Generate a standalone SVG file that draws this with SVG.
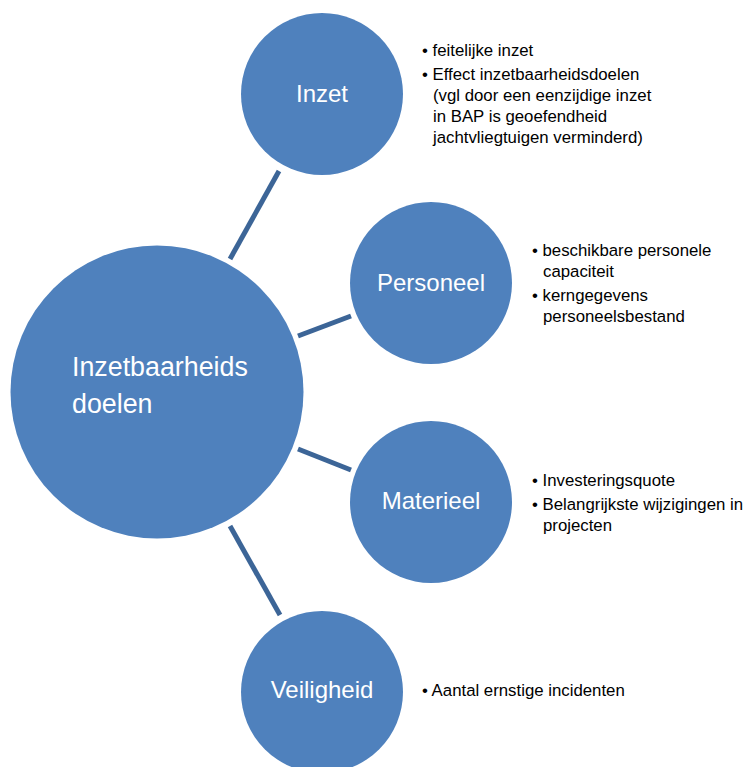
<svg xmlns="http://www.w3.org/2000/svg" width="750" height="767" viewBox="0 0 750 767">
<style>
.c{fill:#4F81BD}
.l{stroke:#3C6597;stroke-width:5;fill:none}
.t{font-family:"Liberation Sans",Arial,sans-serif;fill:#fff;font-size:24px}
.b{font-family:"Liberation Sans",Arial,sans-serif;fill:#000;font-size:16.8px}
</style>
<rect width="750" height="767" fill="#fff"/>
<g id="connectors">
<line class="l" x1="230" y1="259" x2="279" y2="171"/>
<line class="l" x1="298" y1="336" x2="351" y2="316"/>
<line class="l" x1="298" y1="449" x2="351" y2="470"/>
<line class="l" x1="230" y1="526" x2="280" y2="615"/>
</g>
<g id="center">
<circle class="c" cx="157" cy="392" r="146.5"/>
<text class="t" x="72" y="376" style="font-size:26.8px">Inzetbaarheids</text>
<text class="t" x="72" y="413" style="font-size:26.8px">doelen</text>
</g>
<g id="inzet">
<circle class="c" cx="322" cy="94" r="81"/>
<text class="t" x="322" y="102" text-anchor="middle">Inzet</text>
<text class="b" x="422" y="56">• feitelijke inzet</text>
<text class="b" x="422" y="80">• Effect inzetbaarheidsdoelen</text>
<text class="b" x="433" y="101">(vgl door een eenzijdige inzet</text>
<text class="b" x="433" y="122">in BAP is geoefendheid</text>
<text class="b" x="433" y="143">jachtvliegtuigen verminderd)</text>
</g>
<g id="personeel">
<circle class="c" cx="431" cy="283" r="81"/>
<text class="t" x="431" y="291" text-anchor="middle">Personeel</text>
<text class="b" x="532" y="256">• beschikbare personele</text>
<text class="b" x="543" y="277">capaciteit</text>
<text class="b" x="532" y="301">• kerngegevens</text>
<text class="b" x="543" y="322">personeelsbestand</text>
</g>
<g id="materieel">
<circle class="c" cx="431" cy="502" r="81"/>
<text class="t" x="431" y="509" text-anchor="middle">Materieel</text>
<text class="b" x="532" y="486">• Investeringsquote</text>
<text class="b" x="532" y="510">• Belangrijkste wijzigingen in</text>
<text class="b" x="543" y="531">projecten</text>
</g>
<g id="veiligheid">
<circle class="c" cx="322" cy="692" r="81"/>
<text class="t" x="322" y="698" text-anchor="middle">Veiligheid</text>
<text class="b" x="422" y="696">• Aantal ernstige incidenten</text>
</g>
</svg>
